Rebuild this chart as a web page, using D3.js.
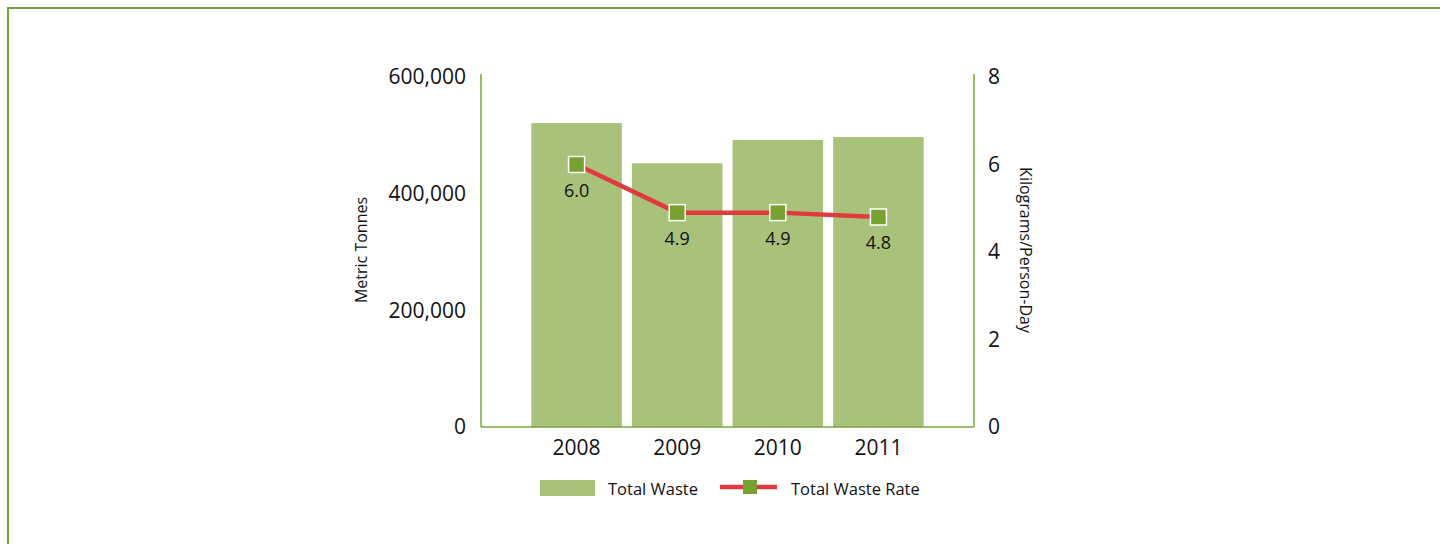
<!DOCTYPE html>
<html>
<head>
<meta charset="utf-8">
<script src="https://cdn.jsdelivr.net/npm/d3@7"></script>
<style>
  body { margin: 0; background: #fff; }
  svg { display: block; }
</style>
</head>
<body>
<script>
// chart data
const years = ["2008", "2009", "2010", "2011"];
const totalWaste = [521000, 452000, 492000, 497000];
const wasteRate = [6.0, 4.9, 4.9, 4.8];
const leftTicks = [0, 200000, 400000, 600000];
const rightTicks = [0, 2, 4, 6, 8];

const width = 1440, height = 544;
const font = "'Open Sans', sans-serif";
const plotLeft = 481, plotRight = 974, plotTop = 77, plotBottom = 427;

const svg = d3.select("body").append("svg")
    .attr("width", width)
    .attr("height", height);

// outer frame
svg.append("rect")
    .attr("x", 8).attr("y", 8)
    .attr("width", 1500).attr("height", 600)
    .style("fill", "none")
    .style("stroke", "#77a33a")
    .style("stroke-width", 2);

let x = d3.scaleBand().domain(years).range([plotLeft, plotRight])
    .paddingInner(0.1).paddingOuter(0.5);
let yL = d3.scaleLinear().domain([0, 600000]).range([plotBottom, plotTop]);
let yR = d3.scaleLinear().domain([0, 8]).range([plotBottom, plotTop]);

// bars
svg.selectAll("rect.bar")
    .data(totalWaste)
    .join("rect")
    .attr("class", "bar")
    .attr("x", (d, i) => x(years[i]))
    .attr("y", d => yL(d))
    .attr("width", x.bandwidth())
    .attr("height", d => yL(0) - yL(d))
    .style("fill", "#a9c27a");

// axes
const leftAxis = d3.axisLeft(yL).tickValues(leftTicks).tickSize(0).tickPadding(15)
    .tickFormat(d3.format(","));
const rightAxis = d3.axisRight(yR).tickValues(rightTicks).tickSize(0).tickPadding(14);
const bottomAxis = d3.axisBottom(x).tickSize(0).tickPadding(13);

function styleAxis(g) {
  g.select(".domain").style("stroke", "#7aa63b").style("stroke-width", 1.5);
  g.selectAll("text").style("font-family", font).style("font-size", "21px").style("fill", "#111");
}

svg.append("g").attr("transform", `translate(${plotLeft},0)`)
    .call(leftAxis).call(g => g.select(".domain").attr("d", `M0,${plotTop - 3}V${plotBottom}`)).call(styleAxis);
svg.append("g").attr("transform", `translate(${plotRight},0)`)
    .call(rightAxis).call(g => g.select(".domain").attr("d", `M0,${plotTop - 3}V${plotBottom}`)).call(styleAxis);
svg.append("g").attr("transform", `translate(0,${plotBottom})`)
    .call(bottomAxis).call(g => g.select(".domain").attr("d", `M${plotLeft},0H${plotRight}`)).call(styleAxis);

// axis titles
svg.append("text")
    .attr("transform", `translate(367,250) rotate(-90)`)
    .attr("text-anchor", "middle")
    .style("font-family", font).style("font-size", "16px").style("fill", "#111")
    .text("Metric Tonnes");
svg.append("text")
    .attr("transform", `translate(1020,250) rotate(90)`)
    .attr("text-anchor", "middle")
    .style("font-family", font).style("font-size", "16px").style("fill", "#111")
    .text("Kilograms/Person-Day");

// rate line
const cx = (d, i) => x(years[i]) + x.bandwidth() / 2;
let lineFn = d3.line().x(cx).y(d => yR(d));
svg.append("path")
    .attr("d", lineFn(wasteRate))
    .style("fill", "none")
    .style("stroke", "#e0393e")
    .style("stroke-width", 4.5);

svg.selectAll("rect.marker")
    .data(wasteRate)
    .join("rect")
    .attr("class", "marker")
    .attr("x", (d, i) => cx(d, i) - 8)
    .attr("y", d => yR(d) - 8)
    .attr("width", 16).attr("height", 16)
    .style("fill", "#78a22f")
    .style("stroke", "#fff")
    .style("stroke-width", 1.5);

svg.selectAll("text.lbl")
    .data(wasteRate)
    .join("text")
    .attr("class", "lbl")
    .attr("x", cx)
    .attr("y", d => yR(d) + 32)
    .attr("text-anchor", "middle")
    .style("font-family", font).style("font-size", "18px").style("fill", "#111")
    .text(d => d.toFixed(1));

// legend
const legend = svg.append("g");
legend.append("rect")
    .attr("x", 540).attr("y", 480).attr("width", 55).attr("height", 16)
    .style("fill", "#a9c27a");
legend.append("text")
    .attr("x", 608).attr("y", 495)
    .style("font-family", font).style("font-size", "16.5px").style("fill", "#111")
    .text("Total Waste");
legend.append("line")
    .attr("x1", 720).attr("x2", 777).attr("y1", 487).attr("y2", 487)
    .style("stroke", "#e0393e").style("stroke-width", 4.5);
legend.append("rect")
    .attr("x", 743).attr("y", 480).attr("width", 14).attr("height", 14)
    .style("fill", "#78a22f");
legend.append("text")
    .attr("x", 791).attr("y", 495)
    .style("font-family", font).style("font-size", "16.5px").style("fill", "#111")
    .text("Total Waste Rate");
</script>
</body>
</html>
